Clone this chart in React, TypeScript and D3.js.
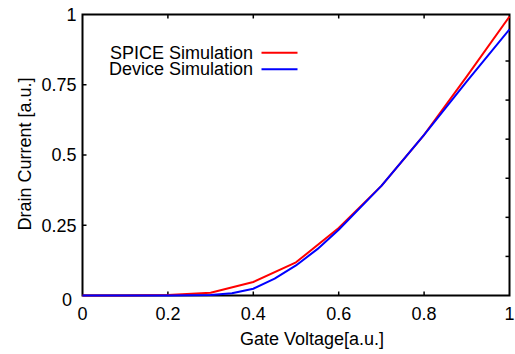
import React from "react";
import * as d3 from "d3";

const spiceX = [0, 0.1, 0.2, 0.3, 0.4, 0.5, 0.6, 0.7, 0.8, 0.9, 1.0];
const spiceY = [0, 0, 0.002, 0.01, 0.048, 0.118, 0.24, 0.39, 0.572, 0.78, 0.993];
const deviceX = [0, 0.1, 0.2, 0.3, 0.35, 0.4, 0.45, 0.5, 0.55, 0.6, 0.7, 0.8, 0.9, 1.0];
const deviceY = [0, 0, 0, 0.002, 0.008, 0.024, 0.06, 0.107, 0.165, 0.234, 0.39, 0.572, 0.762, 0.947];
const xTicks = [0, 0.2, 0.4, 0.6, 0.8, 1];
const xTickLabels = ["0", "0.2", "0.4", "0.6", "0.8", "1"];
const yTicks = [0, 0.25, 0.5, 0.75, 1];
const yTickLabels = ["0", "0.25", "0.5", "0.75", "1"];
const y2Ticks = [1, 2, 3, 4, 5, 6];
const seriesNames = ["SPICE Simulation", "Device Simulation"];
const seriesColors = ["#ff0000", "#0000ff"];

const W = 515, H = 354;
const L = 82.5, R = 509.5, T = 14.5, B = 295.5;
const FONT = "'Liberation Sans', Arial, Helvetica, sans-serif";
const FS = 18;

export default function App() {
  const x = d3.scaleLinear().domain([0, 1]).range([L, R]);
  const y = d3.scaleLinear().domain([0, 1]).range([B, T]);
  const y2 = d3.scaleLinear().domain([0, 7.19]).range([B, T]);
  const line = d3.line<[number, number]>().x(d => x(d[0])).y(d => y(d[1]));
  const spice = line(spiceX.map((v, i) => [v, spiceY[i]] as [number, number]))!;
  const device = line(deviceX.map((v, i) => [v, deviceY[i]] as [number, number]))!;
  const TL = 4;
  return (
    <svg width={W} height={H} style={{ position: "absolute", left: 0, top: 0, background: "#fff" }}
      fontFamily={FONT}>
      <rect x={0} y={0} width={W} height={H} fill="#fff" />
      {/* ticks */}
      {xTicks.slice(1, -1).map((t, i) => (
        <g key={"xt" + i} stroke="#000" strokeWidth={1.5}>
          <line x1={x(t)} x2={x(t)} y1={B} y2={B - TL} />
          <line x1={x(t)} x2={x(t)} y1={T} y2={T + TL} />
        </g>
      ))}
      {yTicks.slice(1, -1).map((t, i) => (
        <line key={"yt" + i} stroke="#000" strokeWidth={1.5} x1={L} x2={L + TL} y1={y(t)} y2={y(t)} />
      ))}
      {y2Ticks.map((t, i) => (
        <line key={"y2t" + i} stroke="#000" strokeWidth={1.5} x1={R} x2={R - TL} y1={y2(t)} y2={y2(t)} />
      ))}
      <rect x={L} y={T} width={R - L} height={B - T} fill="none" stroke="#000" strokeWidth={2} />
      {/* tick labels */}
      {xTicks.map((t, i) => (
        <text key={"xl" + i} x={x(t)} y={320} textAnchor="middle" fontSize={FS} fill="#000">{xTickLabels[i]}</text>
      ))}
      {yTicks.map((t, i) => (
        <text key={"yl" + i} x={i === 0 ? 72 : 76.5} y={y(t) + (i === 0 ? 4.5 : 0)} dy="0.35em" textAnchor="end" fontSize={FS} fill="#000">{yTickLabels[i]}</text>
      ))}
      {/* axis labels */}
      <text x={312} y={345} textAnchor="middle" fontSize={FS} fill="#000">Gate Voltage[a.u.]</text>
      <text transform="translate(31,154) rotate(-90)" textAnchor="middle" fontSize={FS} fill="#000">Drain Current [a.u.]</text>
      {/* lines */}
      <path d={spice} fill="none" stroke={seriesColors[0]} strokeWidth={2} strokeLinejoin="round" />
      <path d={device} fill="none" stroke={seriesColors[1]} strokeWidth={2} strokeLinejoin="round" />
      {/* legend */}
      {seriesNames.map((n, i) => (
        <g key={"lg" + i}>
          <text x={253} y={58.5 + i * 16.5} textAnchor="end" fontSize={FS} fill="#000">{n}</text>
          <line x1={261.5} x2={297.5} y1={52.7 + i * 16.6} y2={52.7 + i * 16.6} stroke={seriesColors[i]} strokeWidth={2} />
        </g>
      ))}
    </svg>
  );
}
